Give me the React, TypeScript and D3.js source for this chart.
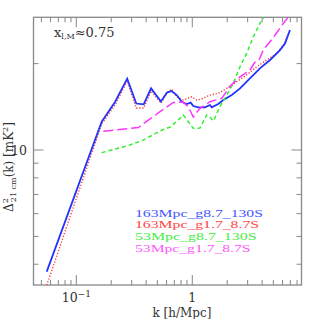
import React, { useEffect, useRef } from 'react';
import * as d3 from 'd3';

// k in h/Mpc, Delta^2 in mK^2
const blueK = [0.0556, 0.1656, 0.2157, 0.2747, 0.329, 0.381, 0.441, 0.537, 0.605, 0.662, 0.734, 0.81, 0.895, 0.969, 1.02, 1.127, 1.286, 1.42, 1.47, 1.675, 1.85, 2.19, 2.58, 3.14, 3.83, 4.68, 5.7, 6.3, 6.95];
const blueV = [3.77, 12.55, 14.7, 17.72, 14.52, 14.43, 16.4, 14.76, 15.86, 16.06, 15.54, 14.73, 14.46, 14.62, 14.23, 14.09, 14.09, 14.35, 14.09, 14.46, 14.94, 15.54, 16.4, 17.77, 19.26, 20.59, 22.3, 23.5, 26.2];

const redK = [0.0556, 0.1656, 0.2157, 0.2747, 0.329, 0.381, 0.441, 0.537, 0.605, 0.662, 0.734, 0.836, 0.988, 1.09, 1.205, 1.42, 1.675, 1.98, 2.41, 2.94, 3.59, 4.38, 5.34, 6.1, 6.86];
const redV = [3.38, 12.32, 14.35, 17.4, 14.0, 14.0, 16.06, 14.58, 15.8, 16.31, 15.33, 14.94, 15.33, 14.94, 15.06, 15.54, 15.76, 16.4, 17.3, 18.25, 19.5, 20.59, 21.7, 23.2, 25.8];

const greenK = [0.1656, 0.29, 0.378, 0.527, 0.643, 0.757, 0.836, 1.02, 1.165, 1.33, 1.42, 1.517, 1.73, 1.98, 2.26, 2.58, 2.94, 3.36, 3.83, 4.49];
const greenV = [9.79, 10.41, 10.83, 11.65, 12.03, 12.72, 13.24, 11.9, 11.93, 13.24, 13.03, 12.62, 14.15, 15.54, 17.08, 19.5, 21.7, 24.8, 27.6, 30.7];

const magK = [0.171, 0.342, 0.527, 0.686, 0.836, 0.924, 1.02, 1.165, 1.42, 1.79, 2.16, 2.58, 3.14, 3.47, 3.76, 4.09, 4.99, 6.09, 6.73];
const magV = [11.62, 11.98, 13.6, 14.64, 14.68, 14.15, 13.03, 13.97, 14.73, 15.14, 16.85, 17.97, 18.99, 20.26, 20.59, 22.3, 24.66, 27.6, 29.1];

const seriesNames = ['163Mpc_g8.7_130S', '163Mpc_g1.7_8.7S', '53Mpc_g8.7_130S', '53Mpc_g1.7_8.7S'];
const seriesColors = ['#2233ff', '#ff3333', '#33ee33', '#ff33ff'];
const legendColors = ['#4455ff', '#ff4444', '#44ee44', '#ff55ff'];
const legendWidths = [128, 124, 121.5, 115.5];

const xMajor = [0.1, 1];
const xMinor = [0.05, 0.06, 0.07, 0.08, 0.09, 0.2, 0.3, 0.4, 0.5, 0.6, 0.7, 0.8, 0.9, 2, 3, 4, 5, 6, 7, 8];
const yMajor = [10];
const yMinor = [4, 5, 6, 7, 8, 9, 20];

export default function App() {
  const svgRef = useRef<SVGSVGElement | null>(null);

  useEffect(() => {
    if (!svgRef.current) return;
    const width = 319;
    const height = 319;
    const left = 33.5, right = 301.5, top = 17.3, bottom = 285;

    const svg = d3.select(svgRef.current);
    svg.selectAll('*').remove();
    svg.attr('width', width).attr('height', height);

    const x = d3.scaleLog().domain([0.04276, 8.74]).range([left, right]);
    const y = d3.scaleLog().domain([3.386, 29.0]).range([bottom, top]);

    svg.append('rect').attr('width', width).attr('height', height).attr('fill', 'white');

    svg.append('defs').append('clipPath').attr('id', 'plotclip')
      .append('rect').attr('x', left).attr('y', top)
      .attr('width', right - left).attr('height', bottom - top);

    const axisColor = '#888';
    const g = svg.append('g');

    // ticks on all four sides
    const tick = (x1: number, y1: number, x2: number, y2: number) =>
      g.append('line').attr('x1', x1).attr('y1', y1).attr('x2', x2).attr('y2', y2)
        .attr('stroke', axisColor).attr('stroke-width', 1);

    xMajor.forEach(k => { tick(x(k), bottom, x(k), bottom - 10); tick(x(k), top, x(k), top + 10); });
    xMinor.forEach(k => { tick(x(k), bottom, x(k), bottom - 5); tick(x(k), top, x(k), top + 5); });
    yMajor.forEach(v => { tick(left, y(v), left + 10, y(v)); tick(right, y(v), right - 10, y(v)); });
    yMinor.forEach(v => { tick(left, y(v), left + 5, y(v)); tick(right, y(v), right - 5, y(v)); });

    g.append('rect').attr('x', left).attr('y', top)
      .attr('width', right - left).attr('height', bottom - top)
      .attr('fill', 'none').attr('stroke', axisColor).attr('stroke-width', 1.3);

    const font = "'DejaVu Serif', serif";

    // tick labels
    const lab = svg.append('g').attr('font-family', font).attr('fill', '#333').attr('font-size', 12.5);
    const t1 = lab.append('text').attr('x', x(0.1)).attr('y', 302).attr('text-anchor', 'middle');
    t1.append('tspan').text('10');
    t1.append('tspan').attr('dy', -5).attr('font-size', 9).text('−1');
    lab.append('text').attr('x', x(1)).attr('y', 302).attr('text-anchor', 'middle').text('1');
    lab.append('text').attr('x', 27).attr('y', y(10) + 4.5).attr('text-anchor', 'end').text('10');

    lab.append('text').attr('x', 182).attr('y', 317).attr('text-anchor', 'middle')
      .attr('font-size', 12).text('k [h/Mpc]');

    const yl = lab.append('text').attr('transform', `translate(13,167) rotate(-90)`)
      .attr('text-anchor', 'middle').attr('font-size', 12);
    yl.append('tspan').text('Δ');
    yl.append('tspan').attr('dy', -5).attr('font-size', 8).text('2');
    yl.append('tspan').attr('dx', -4).attr('dy', 8).attr('font-size', 8).text('21 cm');
    yl.append('tspan').attr('dy', -3).text('(k) [mK');
    yl.append('tspan').attr('dy', -5).attr('font-size', 8).text('2');
    yl.append('tspan').attr('dy', 5).text(']');

    // annotation
    const ann = lab.append('text').attr('x', 54).attr('y', 36.5).attr('font-size', 13);
    ann.append('tspan').text('x');
    ann.append('tspan').attr('dy', 2.5).attr('font-size', 8).text('l,M');
    ann.append('tspan').attr('dy', -2.5).text('≈0.75');

    // curves
    const line = d3.line<[number, number]>().x(d => x(d[0])).y(d => y(d[1]));
    const plot = svg.append('g').attr('clip-path', 'url(#plotclip)');
    const series = [
      { k: redK, v: redV, color: seriesColors[1], dash: '1.2,1.8', w: 1.4 },
      { k: blueK, v: blueV, color: seriesColors[0], dash: null, w: 1.8 },
      { k: greenK, v: greenV, color: seriesColors[2], dash: '4,3', w: 1.5 },
      { k: magK, v: magV, color: seriesColors[3], dash: '10,4', w: 1.5 },
    ];
    series.forEach(s => {
      const pts = s.k.map((k, i) => [k, s.v[i]] as [number, number]);
      plot.append('path').attr('d', line(pts)).attr('fill', 'none')
        .attr('stroke', s.color).attr('stroke-width', s.w)
        .attr('stroke-dasharray', s.dash as any);
    });

    // legend
    const leg = svg.append('g').attr('font-family', "'Liberation Serif', serif").attr('font-size', 10.8);
    seriesNames.forEach((n, i) => {
      leg.append('text').attr('x', 135).attr('y', 216.5 + i * 11.9)
        .attr('textLength', legendWidths[i]).attr('lengthAdjust', 'spacingAndGlyphs')
        .attr('fill', legendColors[i]).text(n);
    });
  }, []);

  return (
    <div style={{ position: 'absolute', left: 0, top: 0 }}>
      <svg ref={svgRef}></svg>
    </div>
  );
}
